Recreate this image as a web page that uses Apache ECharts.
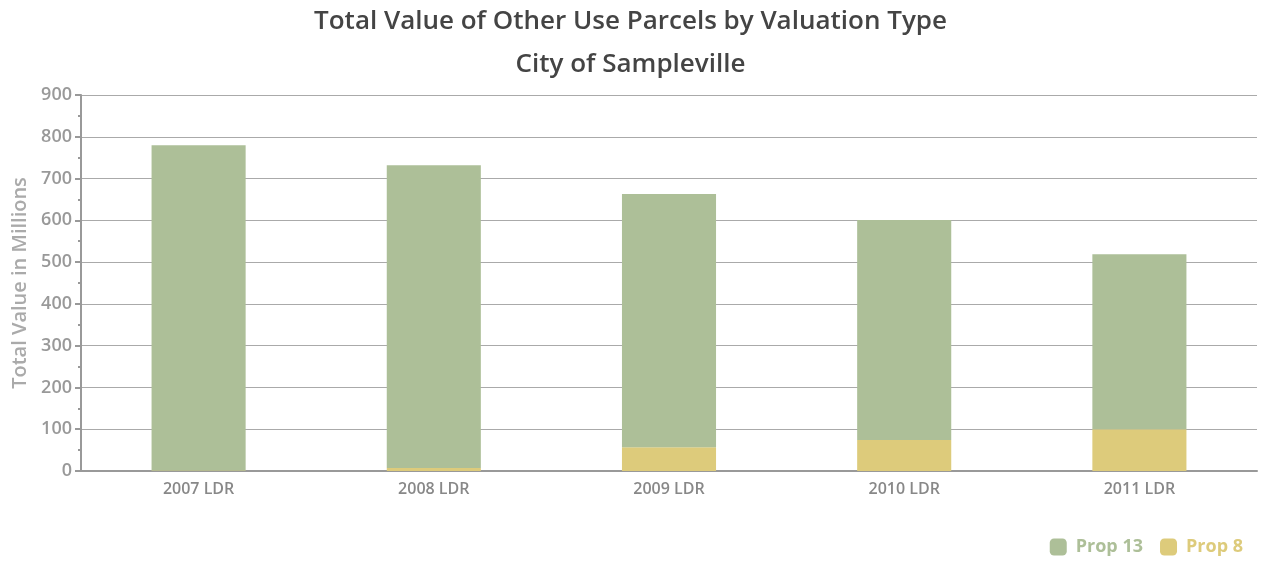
<!DOCTYPE html>
<html>
<head>
<meta charset="utf-8">
<script src="https://cdn.jsdelivr.net/npm/echarts@6/dist/echarts.min.js"></script>
<style>
  html, body { margin: 0; padding: 0; background: #fff; }
  #main { width: 1261px; height: 561px; }
</style>
</head>
<body>
<div id="main"></div>
<script>
// data
var categories = ['2007 LDR', '2008 LDR', '2009 LDR', '2010 LDR', '2011 LDR'];
var prop8 = [1, 7, 57, 74, 100];
var prop13 = [779, 725, 606, 527, 419];
var yTicks = { min: 0, max: 900, interval: 100 };

var myChart = echarts.init(document.getElementById('main'));

var axisGray = '#999';
var option = {
    textStyle: { fontFamily: '"Open Sans", sans-serif' },
    title: {
        text: 'Total Value of Other Use Parcels by Valuation Type\nCity of Sampleville',
        left: 'center',
        top: 0,
        padding: 0,
        textStyle: {
            color: '#444',
            fontSize: 26,
            fontWeight: 600,
            lineHeight: 43
        }
    },
    legend: {
        data: ['Prop 13', 'Prop 8'],
        right: 13,
        bottom: 0,
        itemWidth: 17,
        itemHeight: 17,
        itemGap: 17,
        icon: 'roundRect',
        textStyle: { fontSize: 18, fontWeight: 'bold', color: 'inherit', padding: [0, 0, 0, 4] }
    },
    grid: { left: 81, right: 4, top: 95, bottom: 90, outerBoundsMode: 'none' },
    xAxis: {
        type: 'category',
        data: categories,
        axisLine: { lineStyle: { color: axisGray, width: 2 } },
        axisTick: { alignWithLabel: true, length: 6, lineStyle: { color: axisGray, width: 2 } },
        axisLabel: { color: '#888', fontSize: 16, fontWeight: 600, margin: 10 }
    },
    yAxis: {
        type: 'value',
        min: yTicks.min,
        max: yTicks.max,
        interval: yTicks.interval,
        name: 'Total Value in Millions',
        nameLocation: 'middle',
        nameGap: 51,
        nameTextStyle: { color: '#aaa', fontSize: 20, fontWeight: 600 },
        axisLine: { show: true, lineStyle: { color: axisGray, width: 2 } },
        axisTick: { show: true, length: 6, lineStyle: { color: axisGray, width: 2 } },
        minorTick: { show: true, splitNumber: 2, length: 3, lineStyle: { color: axisGray, width: 2 } },
        axisLabel: { color: '#999', fontSize: 18, fontWeight: 600, margin: 9 },
        splitLine: { lineStyle: { color: '#aaa', width: 1 } }
    },
    series: [{
        name: 'Prop 8',
        type: 'bar',
        stack: 'total',
        barWidth: '40%',
        itemStyle: { color: '#ddcb7b' },
        data: prop8
    }, {
        name: 'Prop 13',
        type: 'bar',
        stack: 'total',
        barWidth: '40%',
        itemStyle: { color: '#adbf98' },
        data: prop13
    }]
};

myChart.setOption(option);
</script>
</body>
</html>
